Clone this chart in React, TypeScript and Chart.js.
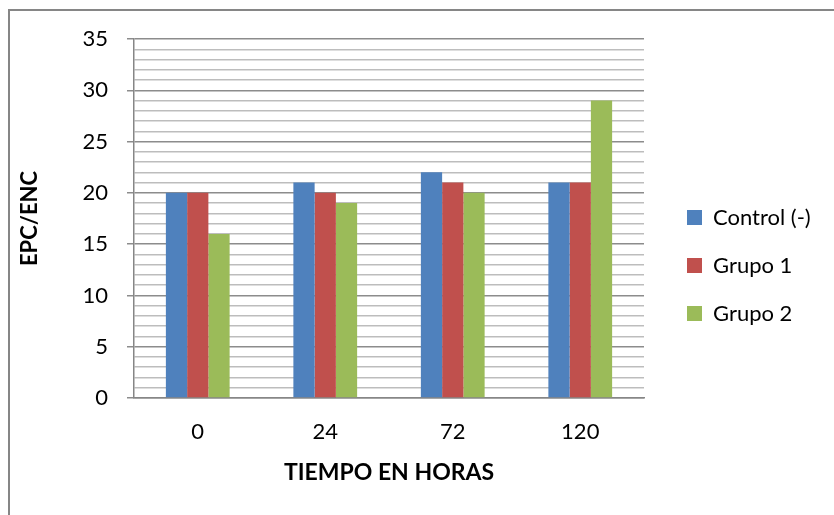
import React, { useEffect, useRef } from "react";
import { Chart, registerables } from "chart.js";

Chart.register(...registerables);

const categories = ["0", "24", "72", "120"];
const seriesNames = ["Control (-)", "Grupo 1", "Grupo 2"];
const controlValues = [20, 21, 22, 21];
const grupo1Values = [20, 20, 21, 21];
const grupo2Values = [16, 19, 20, 29];
const seriesColors = ["#4F81BD", "#C0504D", "#9BBB59"];
const yMin = 0;
const yMax = 35;
const yMajorStep = 5;
const yMinorStep = 1;
const xTitle = "TIEMPO EN HORAS";
const yTitle = "EPC/ENC";

const FONT = "Lato";
const FONT_SIZE = 22;
const W = 834;
const H = 515;

export default function App() {
  const ref = useRef<HTMLCanvasElement | null>(null);

  useEffect(() => {
    let chart: Chart | null = null;
    let cancelled = false;

    const build = () => {
      const canvas = ref.current;
      if (!canvas || cancelled) return;
      const ctx = canvas.getContext("2d")!;
      ctx.font = `normal ${FONT_SIZE}px ${FONT}`;
      const widest = Math.max(...seriesNames.map((s) => ctx.measureText(s).width));
      const legendPad = 26;
      const legendBox = 15;
      // Chart.js vertical legend width = padding + box + fontSize/2 + text + 10
      const legendWidth = legendPad + legendBox + FONT_SIZE / 2 + widest + 10;
      const gap = 17;
      const plotRight = 644;
      const padRight = Math.max(0, W - plotRight - gap - legendWidth);

      const borderPlugin = {
        id: "frame",
        beforeDraw(ch: any) {
          const c = ch.ctx;
          c.save();
          c.fillStyle = "#ffffff";
          c.fillRect(0, 0, ch.width, ch.height);
          c.strokeStyle = "#868686";
          c.lineWidth = 2;
          c.beginPath();
          c.moveTo(9, ch.height);
          c.lineTo(9, 10);
          c.lineTo(ch.width, 10);
          c.stroke();
          c.restore();
        },
      };

      const values = [controlValues, grupo1Values, grupo2Values];
      chart = new Chart(canvas, {
        type: "bar",
        data: {
          labels: categories,
          datasets: seriesNames.map((name, i) => ({
            label: name,
            data: values[i],
            backgroundColor: seriesColors[i],
            borderWidth: 0,
            categoryPercentage: 0.5,
            barPercentage: 1.0,
          })),
        },
        options: {
          animation: false,
          responsive: false,
          maintainAspectRatio: false,
          devicePixelRatio: 1,
          layout: { padding: { left: 12, top: 39, bottom: 23, right: padRight } },
          plugins: {
            tooltip: { enabled: false },
            legend: {
              position: "right",
              maxWidth: 400,
              labels: {
                boxWidth: legendBox,
                boxHeight: legendBox,
                padding: legendPad,
                color: "#000",
                font: { family: FONT, size: FONT_SIZE },
              },
            },
          },
          scales: {
            x: {
              grid: { display: false, drawTicks: false },
              border: { display: true, color: "#868686", width: 1.5 },
              ticks: {
                color: "#000",
                padding: 21,
                font: { family: FONT, size: FONT_SIZE },
              },
              title: {
                display: true,
                text: xTitle,
                color: "#000",
                font: { family: FONT, size: 23, weight: "bold" },
                padding: { top: 0, bottom: 6 },
              },
              afterFit: (s: any) => {
                s.height = 94;
              },
            },
            y: {
              min: yMin,
              max: yMax,
              grid: {
                color: (c: any) => (c.tick && c.tick.value % yMajorStep === 0 ? "#8c8c8c" : "#bdbdbd"),
                lineWidth: 1.5,
                tickLength: 7,
                tickColor: (c: any) =>
                  c.tick && c.tick.value % yMajorStep === 0 ? "#8c8c8c" : "rgba(0,0,0,0)",
              },
              border: { display: true, color: "#868686", width: 1.5 },
              ticks: {
                stepSize: yMinorStep,
                autoSkip: false,
                padding: 19,
                color: "#000",
                font: { family: FONT, size: FONT_SIZE },
                callback: (v: any) => (Number(v) % yMajorStep === 0 ? String(v) : ""),
              },
              title: {
                display: true,
                text: yTitle,
                color: "#000",
                font: { family: FONT, size: FONT_SIZE, weight: "bold" },
                padding: { top: 5, bottom: 0 },
              },
              afterFit: (s: any) => {
                s.width = 134 - 12;
              },
            },
            y2: {
              position: "right",
              display: true,
              grid: { display: false, drawTicks: false },
              border: { display: false },
              ticks: { display: false },
              afterFit: (s: any) => {
                s.width = gap;
              },
            },
          },
        },
        plugins: [borderPlugin],
      });
    };

    const fontsApi = (document as any).fonts;
    if (fontsApi && fontsApi.load) {
      Promise.all([
        fontsApi.load(`normal ${FONT_SIZE}px ${FONT}`),
        fontsApi.load(`bold ${FONT_SIZE}px ${FONT}`),
      ])
        .catch(() => null)
        .then(build);
    } else {
      build();
    }

    return () => {
      cancelled = true;
      if (chart) chart.destroy();
    };
  }, []);

  return (
    <div style={{ position: "fixed", left: 0, top: 0, width: W, height: H }}>
      <canvas ref={ref} width={W} height={H} style={{ width: W, height: H, display: "block" }} />
    </div>
  );
}
